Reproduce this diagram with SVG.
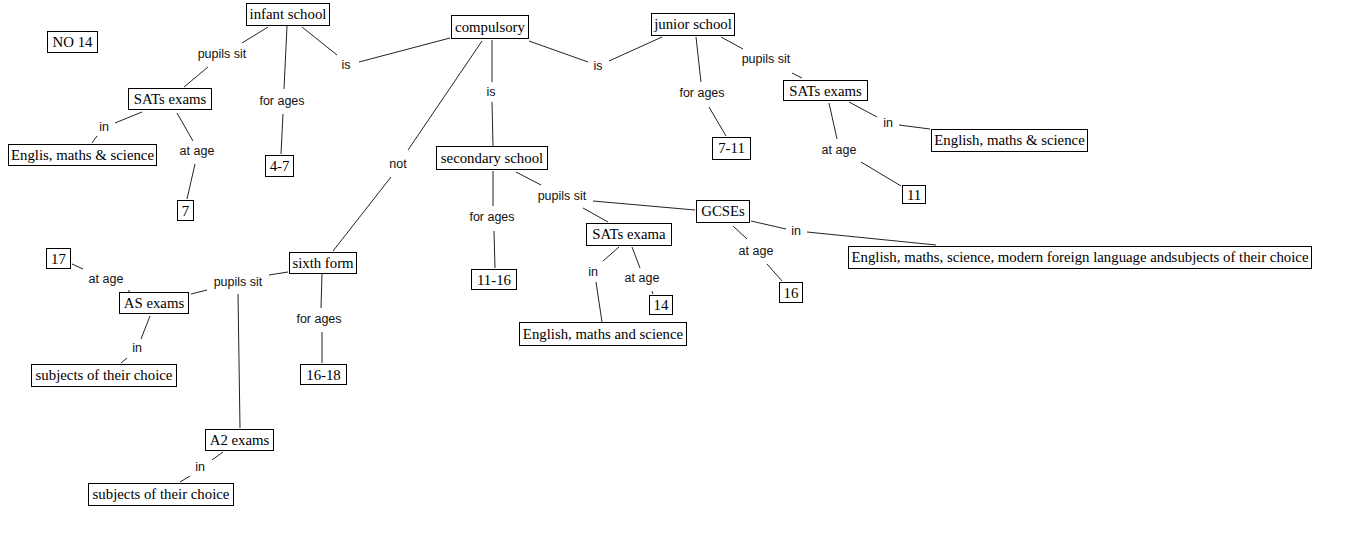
<svg xmlns="http://www.w3.org/2000/svg" width="1371" height="547" viewBox="0 0 1371 547">
<style>
.box rect{fill:#fff;stroke:#000;stroke-width:1}
.box text{font-family:"Liberation Serif","Times New Roman",serif;font-size:14.8px;fill:#000;text-anchor:middle}
.lbl{font-family:"Liberation Sans",Arial,sans-serif;font-size:12.5px;fill:#111;text-anchor:middle}
#connectors line{stroke:#222;stroke-width:1}
</style>
<rect width="1371" height="547" fill="#fff"/>
<g id="connectors">
<line x1="268" y1="27" x2="242" y2="43"/><line x1="208" y1="67" x2="184" y2="87"/>
<line x1="287" y1="26" x2="284" y2="89"/><line x1="283" y1="114" x2="281" y2="154"/>
<line x1="302" y1="27" x2="337" y2="55"/><line x1="359" y1="62" x2="450" y2="38"/>
<line x1="142" y1="112" x2="115" y2="123"/><line x1="97" y1="136" x2="92" y2="143"/>
<line x1="177" y1="113" x2="193" y2="141"/><line x1="195" y1="164" x2="187" y2="199"/>
<line x1="529" y1="41" x2="588" y2="62"/><line x1="609" y1="61" x2="662" y2="37"/>
<line x1="492" y1="40" x2="492" y2="82"/><line x1="492" y1="102" x2="493" y2="146"/>
<line x1="482" y1="41" x2="408" y2="150"/><line x1="391" y1="177" x2="333" y2="251"/>
<line x1="696" y1="37" x2="701" y2="82"/><line x1="709" y1="107" x2="726" y2="136"/>
<line x1="721" y1="37" x2="743" y2="49"/><line x1="792" y1="73" x2="802" y2="78"/>
<line x1="849" y1="102" x2="877" y2="117"/><line x1="899" y1="125" x2="930" y2="129"/>
<line x1="829" y1="103" x2="837" y2="139"/><line x1="861" y1="162" x2="901" y2="186"/>
<line x1="493" y1="171" x2="493" y2="206"/><line x1="494" y1="231" x2="495" y2="268"/>
<line x1="516" y1="172" x2="541" y2="185"/><line x1="593" y1="201" x2="695" y2="210"/>
<line x1="583" y1="208" x2="608" y2="222"/>
<line x1="751" y1="221" x2="786" y2="229"/><line x1="807" y1="232" x2="936" y2="245"/>
<line x1="733" y1="226" x2="747" y2="239"/><line x1="767" y1="264" x2="782" y2="281"/>
<line x1="619" y1="247" x2="603" y2="261"/><line x1="596" y1="282" x2="602" y2="322"/>
<line x1="632" y1="247" x2="640" y2="268"/><line x1="652" y1="291" x2="653" y2="294"/>
<line x1="288" y1="272" x2="269" y2="275"/><line x1="207" y1="290" x2="191" y2="294"/>
<line x1="238" y1="294" x2="240" y2="428"/>
<line x1="322" y1="273" x2="321" y2="308"/><line x1="322" y1="332" x2="322" y2="363"/>
<line x1="129" y1="290" x2="129" y2="292"/><line x1="83" y1="269" x2="72" y2="264"/>
<line x1="150" y1="316" x2="141" y2="339"/><line x1="127" y1="358" x2="121" y2="363"/>
<line x1="223" y1="452" x2="212" y2="460"/><line x1="190" y1="476" x2="180" y2="482"/>
</g>
<g id="labels">
<text class="lbl" x="222" y="58">pupils sit</text>
<text class="lbl" x="282" y="105">for ages</text>
<text class="lbl" x="346" y="69">is</text>
<text class="lbl" x="104" y="131">in</text>
<text class="lbl" x="197" y="155">at age</text>
<text class="lbl" x="598" y="70">is</text>
<text class="lbl" x="491" y="96">is</text>
<text class="lbl" x="398" y="168">not</text>
<text class="lbl" x="702" y="97">for ages</text>
<text class="lbl" x="766" y="63">pupils sit</text>
<text class="lbl" x="888" y="127">in</text>
<text class="lbl" x="839" y="154">at age</text>
<text class="lbl" x="562" y="200">pupils sit</text>
<text class="lbl" x="492" y="221">for ages</text>
<text class="lbl" x="796" y="235">in</text>
<text class="lbl" x="756" y="255">at age</text>
<text class="lbl" x="593" y="276">in</text>
<text class="lbl" x="642" y="282">at age</text>
<text class="lbl" x="106" y="283">at age</text>
<text class="lbl" x="238" y="286">pupils sit</text>
<text class="lbl" x="319" y="323">for ages</text>
<text class="lbl" x="137" y="352">in</text>
<text class="lbl" x="200" y="471">in</text>
</g>
<g id="n-no14" class="box"><rect x="47.5" y="31.5" width="50" height="21"/><text x="72.5" y="47">NO 14</text></g>
<g id="n-infant" class="box"><rect x="246.5" y="3.5" width="83" height="22"/><text x="288" y="19">infant school</text></g>
<g id="n-sats-left" class="box"><rect x="128.5" y="88.5" width="83" height="21"/><text x="170" y="104">SATs exams</text></g>
<g id="n-englis" class="box"><rect x="8.5" y="144.5" width="148" height="21"/><text x="82.5" y="160">Englis, maths &amp; science</text></g>
<g id="n-7" class="box"><rect x="177.5" y="200.5" width="16" height="20"/><text x="185.5" y="215.5">7</text></g>
<g id="n-4-7" class="box"><rect x="265.5" y="155.5" width="28" height="21"/><text x="279.5" y="171">4-7</text></g>
<g id="n-compulsory" class="box"><rect x="451.5" y="15.5" width="77" height="23"/><text x="490" y="31.5">compulsory</text></g>
<g id="n-junior" class="box"><rect x="651.5" y="13.5" width="83" height="22"/><text x="693" y="29">junior school</text></g>
<g id="n-secondary" class="box"><rect x="436.5" y="146.5" width="111" height="23"/><text x="492" y="162.5">secondary school</text></g>
<g id="n-7-11" class="box"><rect x="712.5" y="137.5" width="38" height="22"/><text x="731.5" y="153">7-11</text></g>
<g id="n-sats-right" class="box"><rect x="783.5" y="80.5" width="84" height="20"/><text x="825.5" y="95.5">SATs exams</text></g>
<g id="n-english-right" class="box"><rect x="931.5" y="129.5" width="156" height="22"/><text x="1009.5" y="145">English, maths &amp; science</text></g>
<g id="n-11" class="box"><rect x="902.5" y="185.5" width="23" height="18"/><text x="914" y="199.5">11</text></g>
<g id="n-17" class="box"><rect x="46.5" y="248.5" width="24" height="20"/><text x="58.5" y="263.5">17</text></g>
<g id="n-as" class="box"><rect x="119.5" y="292.5" width="69" height="21"/><text x="154" y="308">AS exams</text></g>
<g id="n-sixth" class="box"><rect x="289.5" y="252.5" width="67" height="21"/><text x="323" y="268">sixth form</text></g>
<g id="n-subjects1" class="box"><rect x="31.5" y="364.5" width="145" height="22"/><text x="104" y="380">subjects of their choice</text></g>
<g id="n-16-18" class="box"><rect x="300.5" y="364.5" width="46" height="20"/><text x="323.5" y="379.5">16-18</text></g>
<g id="n-a2" class="box"><rect x="205.5" y="429.5" width="68" height="21"/><text x="239.5" y="445">A2 exams</text></g>
<g id="n-subjects2" class="box"><rect x="88.5" y="483.5" width="145" height="22"/><text x="161" y="499">subjects of their choice</text></g>
<g id="n-11-16" class="box"><rect x="471.5" y="269.5" width="45" height="20"/><text x="494" y="284.5">11-16</text></g>
<g id="n-sats-exama" class="box"><rect x="586.5" y="223.5" width="85" height="22"/><text x="629" y="239">SATs exama</text></g>
<g id="n-gcses" class="box"><rect x="696.5" y="200.5" width="53" height="22"/><text x="723" y="216">GCSEs</text></g>
<g id="n-14" class="box"><rect x="649.5" y="295.5" width="23" height="19"/><text x="661" y="310">14</text></g>
<g id="n-16" class="box"><rect x="779.5" y="282.5" width="23" height="20"/><text x="791" y="297.5">16</text></g>
<g id="n-english-and" class="box"><rect x="519.5" y="322.5" width="167" height="23"/><text x="603" y="338.5">English, maths and science</text></g>
<g id="n-english-long" class="box"><rect x="848.5" y="246.5" width="463" height="22"/><text x="1080" y="262">English, maths, science, modern foreign language andsubjects of their choice</text></g>
</svg>
